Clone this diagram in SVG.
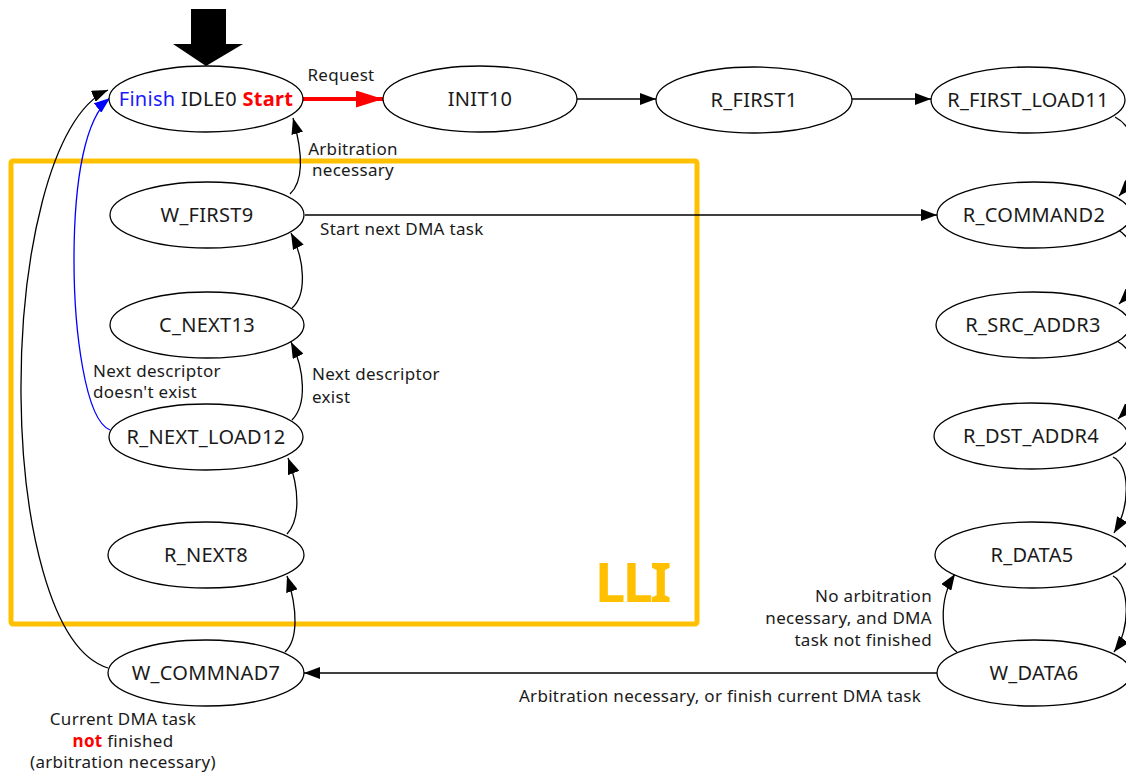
<svg xmlns="http://www.w3.org/2000/svg" width="1126" height="772" viewBox="0 0 1126 772">
<defs>
<style>
.n ellipse{fill:#fff;stroke:#000;stroke-width:1.3}
.n text{font-family:"Noto Sans","Open Sans",sans-serif;font-size:20px;letter-spacing:0.3px;fill:#1a1a1a;text-anchor:middle}
.e path{fill:none;stroke:#000;stroke-width:1.3}
.l{font-family:"Noto Sans","Open Sans",sans-serif;font-size:17px;letter-spacing:0.3px;fill:#1a1a1a}
</style>
<marker id="ah" markerUnits="userSpaceOnUse" markerWidth="17" markerHeight="12" refX="16" refY="6" orient="auto" viewBox="0 0 17 12"><path d="M0,0 L16,6 L0,12 z" fill="#000"/></marker>
<marker id="ahb" markerUnits="userSpaceOnUse" markerWidth="17" markerHeight="12" refX="16" refY="6" orient="auto" viewBox="0 0 17 12"><path d="M0,0 L16,6 L0,12 z" fill="#0000ff"/></marker>
<marker id="ahr" markerUnits="userSpaceOnUse" markerWidth="28" markerHeight="17" refX="27" refY="8.5" orient="auto" viewBox="0 0 28 17"><path d="M0,0 L27,8.5 L0,17 z" fill="#ff0000"/></marker>
</defs>
<rect width="1126" height="772" fill="#fff"/>

<g id="lli">
<rect x="11" y="161" width="686" height="463" rx="2" fill="none" stroke="#FFC000" stroke-width="5"/>
<text x="595" y="602" letter-spacing="-2.5" font-family="Noto Sans,Open Sans,sans-serif" font-size="54" font-weight="bold" fill="#FFC000">LLI</text>
</g>

<g id="start-arrow">
<polygon points="191,9 226,9 226,44 243,44 206,66 173,44 191,44" fill="#000"/>
</g>

<g id="connectors" class="e">
<path d="M303,99 L383,99" style="stroke:#ff0000;stroke-width:4" marker-end="url(#ahr)"/>
<path d="M577,99 L656,99" marker-end="url(#ah)"/>
<path d="M852,99 L931,99" marker-end="url(#ah)"/>
<path d="M305,215 L937,215" marker-end="url(#ah)"/>
<path d="M937,673 L304,673" marker-end="url(#ah)"/>
<path d="M290,194 C305,180 302,150 293,118" marker-end="url(#ah)"/>
<path d="M292,308 C307,295 305,260 291,233" marker-end="url(#ah)"/>
<path d="M292,420 C307,405 305,370 291,342" marker-end="url(#ah)"/>
<path d="M287,534 C300,520 300,490 288,458" marker-end="url(#ah)"/>
<path d="M285,652 C298,640 298,610 287,576" marker-end="url(#ah)"/>
<path d="M1115,117 C1140,130 1142,170 1119,196" marker-end="url(#ah)"/>
<path d="M1117,229 C1142,245 1142,280 1119,304" marker-end="url(#ah)"/>
<path d="M1117,341 C1142,355 1142,395 1118,419" marker-end="url(#ah)"/>
<path d="M1113,457 C1130,465 1131,505 1114,533" marker-end="url(#ah)"/>
<path d="M1113,576 C1130,585 1131,630 1114,652" marker-end="url(#ah)"/>
<path d="M957,652 C940,640 938,600 955,574" marker-end="url(#ah)"/>
<path d="M110,430 C85,420 74,330 74,260 C74,180 85,118 110,98" style="stroke:#0000ff" marker-end="url(#ahb)"/>
<path d="M108,668 C50,650 22,520 21,395 C20,260 50,115 108,90" marker-end="url(#ah)"/>
</g>

<g id="IDLE0" class="n"><ellipse cx="206" cy="99" rx="97" ry="33"/>
<text x="206" y="106"><tspan fill="#1a1aff">Finish</tspan> IDLE0 <tspan fill="#ff0000" font-weight="bold">Start</tspan></text></g>
<g id="INIT10" class="n"><ellipse cx="480" cy="99" rx="97" ry="33"/><text x="480" y="106">INIT10</text></g>
<g id="R_FIRST1" class="n"><ellipse cx="754" cy="100" rx="98" ry="33"/><text x="754" y="107">R_FIRST1</text></g>
<g id="R_FIRST_LOAD11" class="n"><ellipse cx="1028" cy="100" rx="97" ry="33"/><text x="1028" y="107">R_FIRST_LOAD11</text></g>
<g id="R_COMMAND2" class="n"><ellipse cx="1034" cy="215" rx="97" ry="33"/><text x="1034" y="222">R_COMMAND2</text></g>
<g id="R_SRC_ADDR3" class="n"><ellipse cx="1033" cy="325" rx="97" ry="33"/><text x="1033" y="332">R_SRC_ADDR3</text></g>
<g id="R_DST_ADDR4" class="n"><ellipse cx="1031" cy="436" rx="97" ry="33"/><text x="1031" y="443">R_DST_ADDR4</text></g>
<g id="R_DATA5" class="n"><ellipse cx="1032" cy="555" rx="97" ry="33"/><text x="1032" y="562">R_DATA5</text></g>
<g id="W_DATA6" class="n"><ellipse cx="1034" cy="673" rx="97" ry="33"/><text x="1034" y="680">W_DATA6</text></g>
<g id="W_FIRST9" class="n"><ellipse cx="207" cy="215" rx="97" ry="33"/><text x="207" y="222">W_FIRST9</text></g>
<g id="C_NEXT13" class="n"><ellipse cx="207" cy="325" rx="97" ry="33"/><text x="207" y="332">C_NEXT13</text></g>
<g id="R_NEXT_LOAD12" class="n"><ellipse cx="206" cy="437" rx="97" ry="33"/><text x="206" y="444">R_NEXT_LOAD12</text></g>
<g id="R_NEXT8" class="n"><ellipse cx="206" cy="555" rx="98" ry="33"/><text x="206" y="562">R_NEXT8</text></g>
<g id="W_COMMNAD7" class="n"><ellipse cx="206" cy="673" rx="98" ry="33"/><text x="206" y="680">W_COMMNAD7</text></g>

<g id="labels">
<text class="l" x="341" y="81" text-anchor="middle">Request</text>
<text class="l" x="353" y="155" text-anchor="middle">Arbitration</text>
<text class="l" x="353" y="176" text-anchor="middle">necessary</text>
<text class="l" x="320" y="235">Start next DMA task</text>
<text class="l" x="312" y="380">Next descriptor</text>
<text class="l" x="312" y="403">exist</text>
<text class="l" x="93" y="377">Next descriptor</text>
<text class="l" x="93" y="398">doesn't exist</text>
<text class="l" x="932" y="602" text-anchor="end">No arbitration</text>
<text class="l" x="932" y="624" text-anchor="end">necessary, and DMA</text>
<text class="l" x="932" y="646" text-anchor="end">task not finished</text>
<text class="l" x="720" y="702" text-anchor="middle">Arbitration necessary, or finish current DMA task</text>
<text class="l" x="123" y="725" text-anchor="middle">Current DMA task</text>
<text class="l" x="123" y="747" text-anchor="middle"><tspan fill="#ff0000" font-weight="bold">not</tspan> finished</text>
<text class="l" x="123" y="768" text-anchor="middle">(arbitration necessary)</text>
</g>
</svg>
